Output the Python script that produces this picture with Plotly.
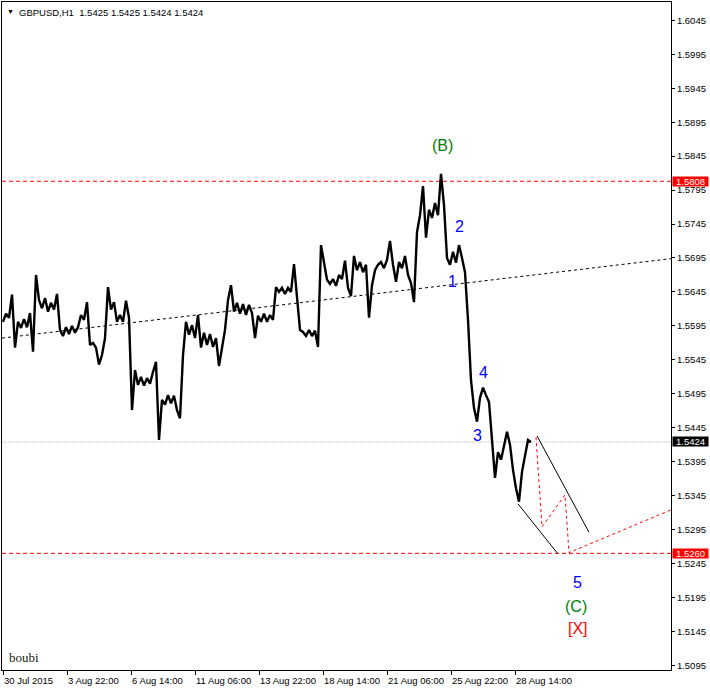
import numpy as np
import plotly.graph_objects as go

# ---- data: GBPUSD H1, sampled every 3 bars (price) ----
price = [
    1.5601, 1.5613, 1.5607, 1.5641, 1.5563, 1.5601, 1.5592, 1.5605, 1.5593, 1.5614,
    1.5557, 1.5670, 1.5633, 1.5621, 1.5636, 1.5616, 1.5629, 1.5619, 1.5642, 1.5589,
    1.5580, 1.5593, 1.5583, 1.5595, 1.5585, 1.5593, 1.5611, 1.5604, 1.5630, 1.5567,
    1.5570, 1.5563, 1.5538, 1.5552, 1.5577, 1.5652, 1.5619, 1.5630, 1.5601, 1.5611,
    1.5601, 1.5632, 1.5607, 1.5471, 1.5530, 1.5508, 1.5520, 1.5507, 1.5518, 1.5510,
    1.5527, 1.5542, 1.5427, 1.5486, 1.5479, 1.5493, 1.5481, 1.5492, 1.5471, 1.5459,
    1.5552, 1.5601, 1.5582, 1.5596, 1.5577, 1.5611, 1.5563, 1.5585, 1.5567, 1.5583,
    1.5564, 1.5577, 1.5536, 1.5560, 1.5589, 1.5633, 1.5655, 1.5616, 1.5629, 1.5613,
    1.5627, 1.5611, 1.5626, 1.5614, 1.5577, 1.5610, 1.5601, 1.5613, 1.5601, 1.5611,
    1.5604, 1.5652, 1.5645, 1.5651, 1.5642, 1.5651, 1.5645, 1.5686, 1.5633, 1.5589,
    1.5586, 1.5580, 1.5589, 1.5580, 1.5588, 1.5564, 1.5714, 1.5689, 1.5663, 1.5657,
    1.5664, 1.5654, 1.5670, 1.5664, 1.5691, 1.5651, 1.5639, 1.5698, 1.5677, 1.5689,
    1.5674, 1.5685, 1.5607, 1.5655, 1.5677, 1.5685, 1.5689, 1.5680, 1.5692, 1.5720,
    1.5685, 1.5660, 1.5689, 1.5680, 1.5698, 1.5670, 1.5658, 1.5630, 1.5733, 1.5758,
    1.5801, 1.5725, 1.5766, 1.5754, 1.5776, 1.5758, 1.5819, 1.5773, 1.5695, 1.5685,
    1.5704, 1.5688, 1.5714, 1.5695, 1.5674, 1.5604, 1.5515, 1.5474, 1.5454, 1.5489,
    1.5504, 1.5493, 1.5483, 1.5427, 1.5371, 1.5409, 1.5398, 1.5418, 1.5439, 1.5420,
    1.5383, 1.5356, 1.5336, 1.5380, 1.5401, 1.5427, 1.5424,
]
bar_step = 3
bars = np.arange(len(price)) * bar_step + 1

time_tick_bars = [1, 65, 129, 193, 257, 321, 385, 449, 513]
time_tick_labels = ["30 Jul 2015", "3 Aug 22:00", "6 Aug 14:00", "11 Aug 06:00",
                    "13 Aug 22:00", "18 Aug 14:00", "21 Aug 06:00", "25 Aug 22:00",
                    "28 Aug 14:00"]
price_ticks = [1.5095, 1.5145, 1.5195, 1.5245, 1.5295, 1.5345, 1.5395, 1.5445, 1.5495,
               1.5545, 1.5595, 1.5645, 1.5695, 1.5745, 1.5795, 1.5845, 1.5895, 1.5945,
               1.5995, 1.6045]

level_high = 1.5808
level_low = 1.5260
last_price = 1.5424

# drawn objects (bar index, price)
trend_x = [0, 669]
trend_y = [1.5577, 1.5694]
chan_upper_x = [535, 587]
chan_upper_y = [1.5433, 1.5291]
chan_lower_x = [516, 556]
chan_lower_y = [1.5333, 1.5259]
proj_x = [534, 540, 563, 567, 669]
proj_y = [1.5431, 1.5299, 1.5346, 1.5261, 1.5324]

wave_text = ["(B)", "2", "1", "4", "3", "5", "(C)", "[X]"]
wave_x = [440, 457, 450, 481, 475, 575, 574, 576]
wave_y = [1.5860, 1.5741, 1.5660, 1.5527, 1.5434, 1.5217, 1.5181, 1.5150]
wave_color = ["#008000", "#0000ff", "#0000ff", "#0000ff", "#0000ff", "#0000ff",
              "#008000", "#ff0000"]

FONT = "Liberation Sans, Arial, sans-serif"

fig = go.Figure()

# horizontal levels
for lv, col, dash in [(level_high, "#ff0000", "4px,3px"), (level_low, "#ff0000", "4px,3px"),
                      (last_price, "#b8b8b8", "1px,1px")]:
    fig.add_trace(go.Scatter(x=[0, 669], y=[lv, lv], mode="lines",
                             line=dict(color=col, width=1, dash=dash),
                             hoverinfo="skip", showlegend=False))

fig.add_trace(go.Scatter(x=trend_x, y=trend_y, mode="lines",
                         line=dict(color="black", width=1, dash="3px,3px"),
                         hoverinfo="skip", showlegend=False))
fig.add_trace(go.Scatter(x=chan_upper_x, y=chan_upper_y, mode="lines",
                         line=dict(color="black", width=1), showlegend=False))
fig.add_trace(go.Scatter(x=chan_lower_x, y=chan_lower_y, mode="lines",
                         line=dict(color="black", width=1), showlegend=False))
fig.add_trace(go.Scatter(x=proj_x, y=proj_y, mode="lines",
                         line=dict(color="#ff0000", width=1, dash="3px,3px"),
                         showlegend=False))

# price
fig.add_trace(go.Scatter(x=bars, y=price, mode="lines",
                         line=dict(color="black", width=2.4),
                         showlegend=False, name="GBPUSD"))

annotations = []
for t, x, y, c in zip(wave_text, wave_x, wave_y, wave_color):
    annotations.append(dict(x=x, y=y, xref="x", yref="y", text=t, showarrow=False,
                            font=dict(family=FONT, size=16, color=c)))

for b, lab in zip(time_tick_bars, time_tick_labels):
    annotations.append(dict(x=b, y=0, xref="x", yref="paper", text=lab, showarrow=False,
                            xanchor="left", yanchor="top", yshift=-3, xshift=-1,
                            font=dict(family=FONT, size=9.5, color="black")))

for lv, bg in [(level_high, "#ff0000"), (last_price, "#000000"), (level_low, "#ff0000")]:
    annotations.append(dict(x=1, y=lv, xref="paper", yref="y", text=f"{lv:.4f}",
                            showarrow=False, xanchor="left", xshift=1,
                            bgcolor=bg, width=35, height=9, borderpad=0,
                            font=dict(family=FONT, size=9.5, color="white")))

annotations.append(dict(x=0, y=1, xref="paper", yref="paper", text="▼", showarrow=False,
                        xanchor="left", yanchor="top", xshift=3, yshift=-4,
                        font=dict(family=FONT, size=7, color="black")))
annotations.append(dict(x=0, y=1, xref="paper", yref="paper",
                        text="GBPUSD,H1  1.5425 1.5425 1.5424 1.5424", showarrow=False,
                        xanchor="left", yanchor="top", xshift=15, yshift=-3,
                        font=dict(family=FONT, size=9.5, color="black")))
annotations.append(dict(x=0, y=0, xref="paper", yref="paper", text="boubi", showarrow=False,
                        xanchor="left", yanchor="bottom", xshift=5, yshift=3,
                        font=dict(family="Liberation Serif, Times New Roman, serif",
                                  size=13, color="#202020")))

fig.update_layout(
    width=710, height=688,
    margin=dict(l=2, r=39, t=2, b=18),
    paper_bgcolor="white", plot_bgcolor="white",
    showlegend=False,
    annotations=annotations,
    xaxis=dict(range=[0, 669], showgrid=False, zeroline=False,
               showline=True, mirror=True, linecolor="black", linewidth=1,
               ticks="outside", ticklen=4, tickcolor="black",
               tickvals=time_tick_bars, showticklabels=False),
    yaxis=dict(range=[1.50882, 1.6072], side="right", showgrid=False, zeroline=False,
               showline=True, mirror=True, linecolor="black", linewidth=1,
               ticks="outside", ticklen=3, tickcolor="black",
               tickvals=price_ticks, ticktext=[f"{v:.4f}" for v in price_ticks],
               tickfont=dict(family=FONT, size=9.5, color="black")),
)

fig.write_html("out.html", config={"displayModeBar": False},
               post_script="document.body.style.margin='0';document.body.style.overflow='hidden';")
